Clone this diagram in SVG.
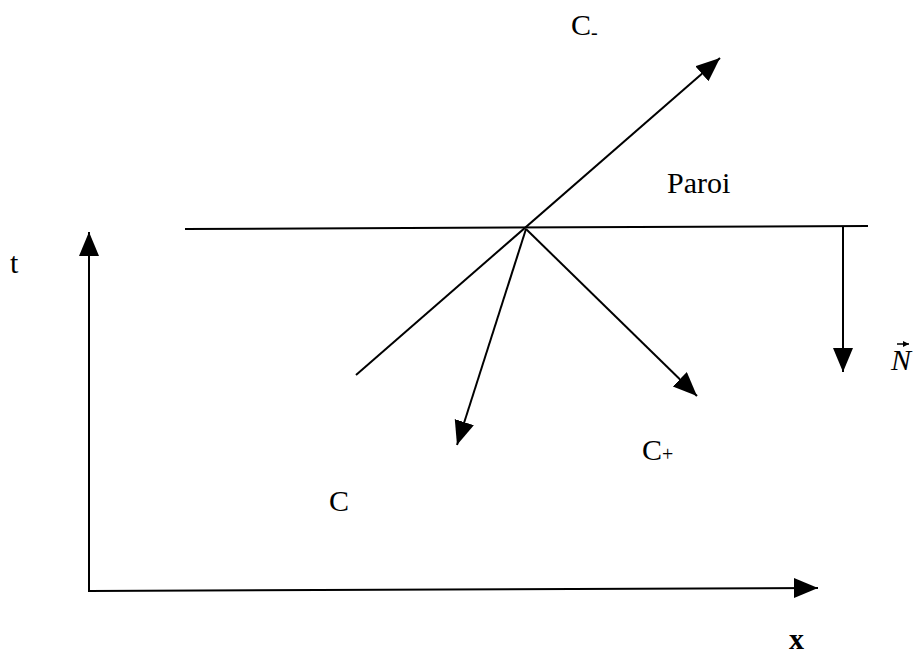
<svg xmlns="http://www.w3.org/2000/svg" width="916" height="655" viewBox="0 0 916 655">
<style>
.ln{stroke:#000;stroke-width:2;fill:none}
.arr{marker-end:url(#ah)}
text{font-family:"Liberation Serif","Times New Roman",serif;fill:#000;font-size:30px}
</style>
<defs>
<marker id="ah" markerUnits="userSpaceOnUse" markerWidth="26" markerHeight="22" refX="24" refY="10" orient="auto">
<path d="M0,0 L24,10 L0,20 Z" fill="#000"/>
</marker>
<marker id="sm" markerUnits="userSpaceOnUse" markerWidth="8" markerHeight="8" refX="6" refY="3" orient="auto">
<path d="M0,0 L6,3 L0,6 Z" fill="#000"/>
</marker>
</defs>
<rect width="916" height="655" fill="#fff"/>
<g id="connectors">
<line class="ln" x1="185" y1="229" x2="868" y2="226"/>
<line class="ln arr" x1="356" y1="375" x2="720" y2="58"/>
<line class="ln arr" x1="526" y1="229" x2="457" y2="445"/>
<line class="ln arr" x1="526" y1="229" x2="697" y2="396"/>
<line class="ln arr" x1="843" y1="227" x2="843" y2="372"/>
<line class="ln arr" x1="89" y1="592" x2="89" y2="232"/>
<line class="ln arr" x1="89" y1="591" x2="818" y2="588"/>
</g>
<g id="label-cminus"><text x="571" y="35">C<tspan font-size="20" dy="4">-</tspan></text></g>
<g id="label-paroi"><text x="667" y="193">Paroi</text></g>
<g id="label-t"><text x="10" y="273">t</text></g>
<g id="label-c"><text x="329" y="511">C</text></g>
<g id="label-cplus"><text x="642" y="460">C<tspan font-size="20" dy="1">+</tspan></text></g>
<g id="label-x"><text x="789" y="649" font-weight="bold">x</text></g>
<g id="label-n"><text x="891" y="370" font-style="italic">N</text>
<line x1="897" y1="344" x2="909" y2="344" stroke="#000" stroke-width="1.5" marker-end="url(#sm)"/></g>
</svg>
